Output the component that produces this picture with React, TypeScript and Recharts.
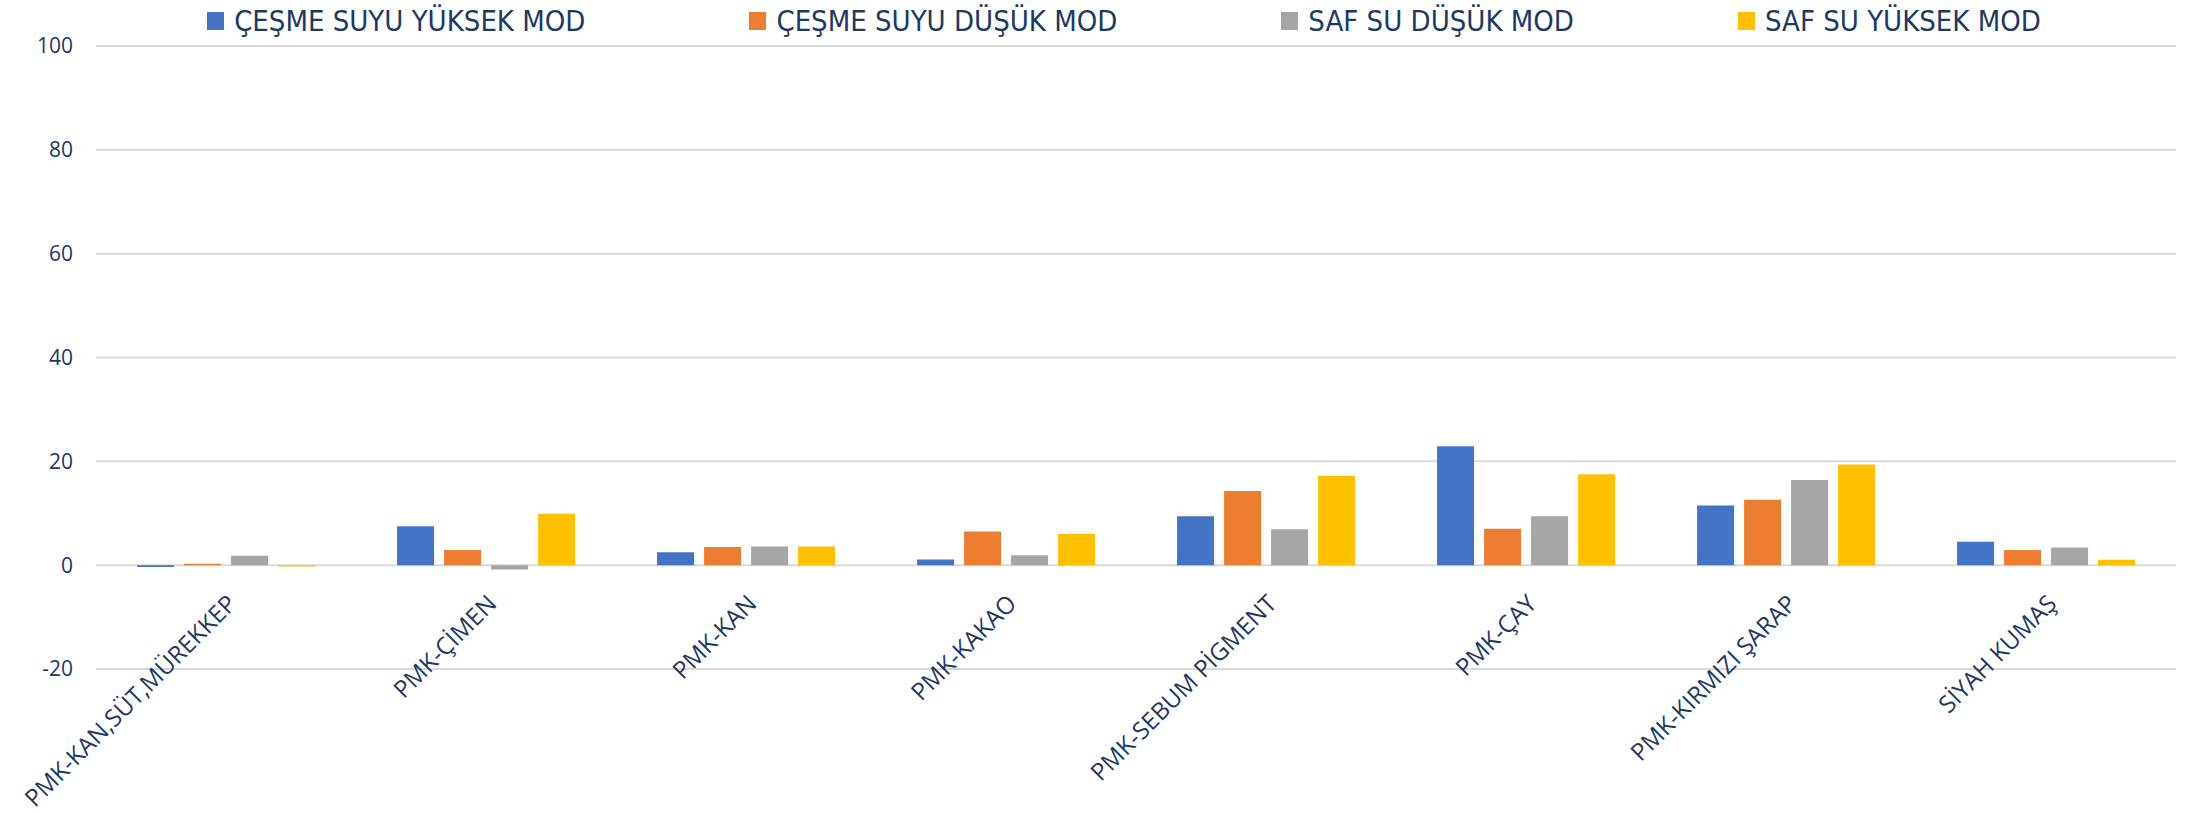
import { Bar, BarChart, CartesianGrid, Legend, XAxis, YAxis } from "recharts";

const categories = [
  "PMK-KAN,SÜT,MÜREKKEP",
  "PMK-ÇİMEN",
  "PMK-KAN",
  "PMK-KAKAO",
  "PMK-SEBUM PİGMENT",
  "PMK-ÇAY",
  "PMK-KIRMIZI ŞARAP",
  "SİYAH KUMAŞ",
];

const cesmeYuksek = [-0.35, 7.5, 2.5, 1.1, 9.4, 22.9, 11.5, 4.5];
const cesmeDusuk = [0.25, 2.9, 3.5, 6.5, 14.3, 7.0, 12.6, 2.9];
const safDusuk = [1.8, -0.85, 3.6, 1.9, 6.9, 9.4, 16.4, 3.4];
const safYuksek = [-0.25, 9.9, 3.6, 6.0, 17.2, 17.5, 19.4, 1.05];

const yTicks = [-20, 0, 20, 40, 60, 80, 100];

const series = [
  { key: "cy", name: "ÇEŞME SUYU YÜKSEK MOD", color: "#4472C4" },
  { key: "cd", name: "ÇEŞME SUYU DÜŞÜK MOD", color: "#ED7D31" },
  { key: "sd", name: "SAF SU DÜŞÜK MOD", color: "#A5A5A5" },
  { key: "sy", name: "SAF SU YÜKSEK MOD", color: "#FFC000" },
];

const data = categories.map((name, i) => ({
  name,
  cy: cesmeYuksek[i],
  cd: cesmeDusuk[i],
  sd: safDusuk[i],
  sy: safYuksek[i],
}));

const W = 2187;
const H = 814;
const TOP = 46;
const BOTTOM = 145;
const PLOT_H = H - TOP - BOTTOM;
// labels sit next to the zero line, not at the bottom of the plot
const ZERO_UP = (PLOT_H * 20) / 120;
const NAVY = "#203864";

function XTick({ x, y, payload }: any) {
  return (
    <g transform={`translate(${x + 12},${y - ZERO_UP + 40})`}>
      <text
        transform="rotate(-45)"
        textAnchor="end"
        fontSize={24}
        fontFamily="'Open Sans', sans-serif"
        fill={NAVY}
      >
        {payload.value}
      </text>
    </g>
  );
}

function renderLegend() {
  return (
    <div
      style={{
        display: "flex",
        justifyContent: "center",
        alignItems: "center",
        paddingTop: 4,
      }}
    >
      {series.map((s, i) => (
        <div
          key={s.key}
          style={{
            display: "flex",
            alignItems: "center",
            marginLeft: i === 0 ? 0 : 164,
          }}
        >
          <span
            style={{
              width: 17,
              height: 18,
              backgroundColor: s.color,
              marginRight: 10,
              display: "inline-block",
            }}
          />
          <span
            style={{
              fontFamily: "'Liberation Sans Narrow', 'DejaVu Sans Condensed', sans-serif",
              fontSize: 29,
              color: NAVY,
              lineHeight: "34px",
            }}
          >
            {s.name}
          </span>
        </div>
      ))}
    </div>
  );
}

export default function App() {
  return (
    <div style={{ position: "absolute", left: 0, top: 0, background: "#fff" }}>
      <BarChart
        width={W}
        height={H}
        data={data}
        margin={{ top: 0, right: 11, left: 0, bottom: 0 }}
        barCategoryGap="15.8%"
        barGap={10}
      >
        <CartesianGrid vertical={false} stroke="#D9D9D9" strokeWidth={2} />
        <XAxis
          dataKey="name"
          axisLine={false}
          tickLine={false}
          tickSize={0}
          tickMargin={0}
          interval={0}
          height={BOTTOM}
          tick={<XTick />}
        />
        <YAxis
          domain={[-20, 100]}
          ticks={yTicks}
          axisLine={false}
          tickLine={false}
          width={96}
          tickMargin={17}
          tick={{ fontSize: 21, fill: NAVY, fontFamily: "'Open Sans', sans-serif" }}
        />
        <Legend
          verticalAlign="top"
          height={TOP}
          content={renderLegend}
          wrapperStyle={{ top: 0, left: 84, width: 2080 }}
        />
        {series.map((s) => (
          <Bar
            key={s.key}
            dataKey={s.key}
            name={s.name}
            fill={s.color}
            isAnimationActive={false}
          />
        ))}
      </BarChart>
    </div>
  );
}
